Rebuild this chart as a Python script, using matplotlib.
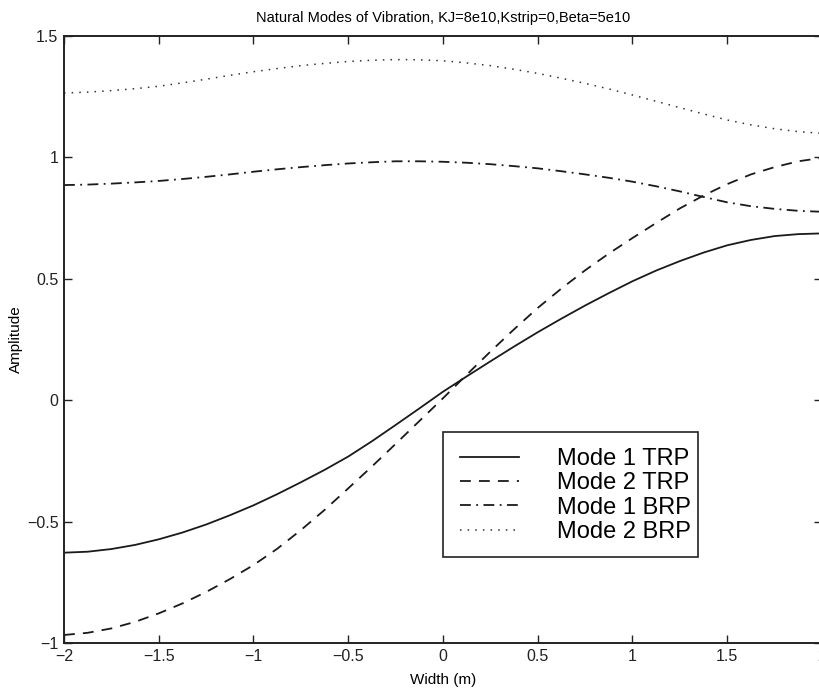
import matplotlib
matplotlib.use("Agg")
import matplotlib.pyplot as plt
from matplotlib.patches import Rectangle

# values
width = [-2.0, -1.875, -1.75, -1.625, -1.5, -1.375, -1.25, -1.125, -1.0,
         -0.875, -0.75, -0.625, -0.5, -0.375, -0.25, -0.125, 0.0,
         0.125, 0.25, 0.375, 0.5, 0.625, 0.75, 0.875, 1.0,
         1.125, 1.25, 1.375, 1.5, 1.625, 1.75, 1.875, 2.0]
mode1_trp = [-0.628, -0.624, -0.613, -0.596, -0.573, -0.545, -0.512, -0.474, -0.433,
             -0.387, -0.338, -0.287, -0.232, -0.169, -0.102, -0.034, 0.035,
             0.098, 0.16, 0.221, 0.28, 0.336, 0.39, 0.441, 0.49,
             0.534, 0.573, 0.608, 0.638, 0.66, 0.676, 0.684, 0.687]
mode2_trp = [-0.967, -0.958, -0.94, -0.913, -0.878, -0.837, -0.79, -0.737, -0.679,
             -0.612, -0.535, -0.452, -0.363, -0.273, -0.18, -0.086, 0.008,
             0.105, 0.2, 0.292, 0.38, 0.46, 0.535, 0.604, 0.668,
             0.73, 0.79, 0.843, 0.89, 0.93, 0.96, 0.984, 0.998]
mode1_brp = [0.886, 0.888, 0.892, 0.897, 0.903, 0.911, 0.92, 0.93, 0.941,
             0.951, 0.96, 0.968, 0.975, 0.98, 0.984, 0.984, 0.982,
             0.978, 0.972, 0.964, 0.955, 0.943, 0.93, 0.916, 0.90,
             0.881, 0.86, 0.837, 0.815, 0.799, 0.788, 0.780, 0.776]
mode2_brp = [1.265, 1.269, 1.275, 1.283, 1.293, 1.307, 1.322, 1.338, 1.353,
             1.366, 1.378, 1.387, 1.395, 1.400, 1.403, 1.402, 1.398,
             1.389, 1.378, 1.363, 1.346, 1.326, 1.305, 1.282, 1.257,
             1.231, 1.205, 1.179, 1.154, 1.134, 1.118, 1.106, 1.099]

labels = ["Mode 1 TRP", "Mode 2 TRP", "Mode 1 BRP", "Mode 2 BRP"]
xticks = [-2, -1.5, -1, -0.5, 0, 0.5, 1, 1.5, 2]
yticks = [-1, -0.5, 0, 0.5, 1, 1.5]

plt.rcParams['font.family'] = ['Liberation Sans', 'DejaVu Sans']

W, H = 820, 692
fig = plt.figure(figsize=(W / 100, H / 100), dpi=100)
ax = fig.add_axes([64 / W, 1 - 643 / H, 758 / W, (643 - 36) / H])

col = '#1a1a1a'
ax.plot(width, mode1_trp, color=col, lw=1.3, ls='-', label=labels[0])
ax.plot(width, mode2_trp, color=col, lw=1.3, ls=(0, (6, 4.5)), label=labels[1])
ax.plot(width, mode1_brp, color=col, lw=1.3, ls=(0, (6, 3, 1, 3)), label=labels[2])
ax.plot(width, mode2_brp, color='#333333', lw=1.1, ls=(0, (1, 4)), label=labels[3])

ax.set_xlim(-2, 2)
ax.set_ylim(-1, 1.5)
ax.set_xticks(xticks)
ax.set_yticks(yticks)
ax.set_xticklabels([f"{t:g}".replace('-', '\u2212') for t in xticks])
ax.set_yticklabels([f"{t:g}".replace('-', '\u2212') for t in yticks])
ax.tick_params(direction='in', length=6, width=1, top=True, right=True,
               labelsize=11.5, pad=4, colors='#222222')
for s in ax.spines.values():
    s.set_linewidth(1.4)
    s.set_color('#222222')

ax.set_title("Natural Modes of Vibration, KJ=8e10,Kstrip=0,Beta=5e10",
             fontsize=10.5, pad=10)
ax.set_xlabel("Width (m)", fontsize=11, labelpad=7)
ax.set_ylabel("Amplitude", fontsize=11, labelpad=3)

# legend entries without frame, box drawn separately (MATLAB-like padding)
leg = ax.legend(loc='upper left', bbox_to_anchor=(460 / W, 1 - 448 / H),
                bbox_transform=fig.transFigure, borderaxespad=0, borderpad=0,
                fontsize=17, frameon=False, handlelength=2.5,
                handletextpad=1.6, labelspacing=0.1)
box = Rectangle((443 / W, 1 - 557 / H), 255 / W, 125 / H,
                transform=fig.transFigure, facecolor='white',
                edgecolor='#222222', lw=1.2, zorder=4)
ax.add_patch(box)
leg.set_zorder(5)

fig.savefig("out.png", dpi=100)
